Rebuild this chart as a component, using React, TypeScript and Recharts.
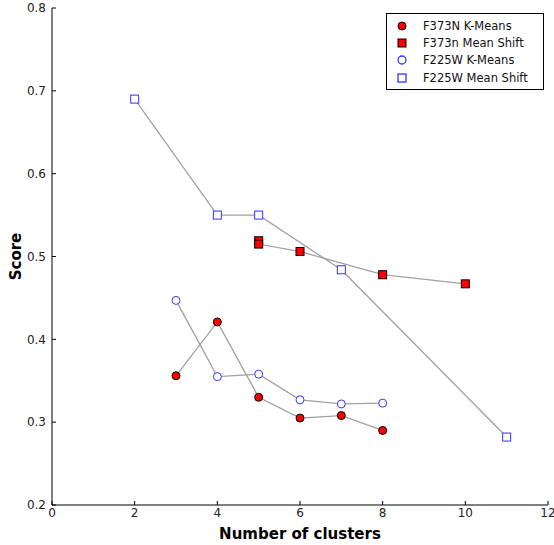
import { Line, LineChart, XAxis, YAxis } from "recharts";

const kmeansF373N = [
  { x: 3, y: 0.356 },
  { x: 4, y: 0.421 },
  { x: 5, y: 0.33 },
  { x: 6, y: 0.305 },
  { x: 7, y: 0.308 },
  { x: 8, y: 0.29 },
];
const meanShiftF373N = [
  { x: 5, y: 0.519 },
  { x: 5, y: 0.515 },
  { x: 6, y: 0.506 },
  { x: 8, y: 0.478 },
  { x: 10, y: 0.467 },
];
const kmeansF225W = [
  { x: 3, y: 0.447 },
  { x: 4, y: 0.355 },
  { x: 5, y: 0.358 },
  { x: 6, y: 0.327 },
  { x: 7, y: 0.322 },
  { x: 8, y: 0.323 },
];
const meanShiftF225W = [
  { x: 2, y: 0.69 },
  { x: 4, y: 0.55 },
  { x: 5, y: 0.55 },
  { x: 7, y: 0.484 },
  { x: 11, y: 0.282 },
];

const xTicks = [0, 2, 4, 6, 8, 10, 12];
const yTicks = [0.2, 0.3, 0.4, 0.5, 0.6, 0.7, 0.8];
const seriesNames = ["F373N K-Means", "F373n Mean Shift", "F225W K-Means", "F225W Mean Shift"];

const BLUE = "#3333ff";
const LINE = "#a0a0a0";
const FONT = "'DejaVu Sans', sans-serif";

const circle = (fill: string, stroke: string) => (p: any) =>
  <circle key={p.index} cx={p.cx} cy={p.cy} r={4} fill={fill} stroke={stroke} strokeWidth={1} />;
const square = (fill: string, stroke: string) => (p: any) =>
  <rect key={p.index} x={p.cx - 4} y={p.cy - 4} width={8} height={8} fill={fill} stroke={stroke} strokeWidth={1} />;

function LegendBox() {
  const markers = [
    <circle cx={8} cy={8} r={4} fill="red" stroke="#000" />,
    <rect x={4} y={4} width={8} height={8} fill="red" stroke="#000" />,
    <circle cx={8} cy={8} r={4} fill="#fff" stroke={BLUE} strokeWidth={1.3} />,
    <rect x={4} y={4} width={8} height={8} fill="#fff" stroke={BLUE} strokeWidth={1.3} />,
  ];
  return (
    <div
      style={{
        position: "absolute",
        left: 386,
        top: 13,
        border: "1px solid #000",
        background: "#fff",
        width: 156,
        padding: "3px 0 3px 0",
        fontFamily: FONT,
        fontSize: 11.5,
        color: "#111",
      }}
    >
      {seriesNames.map((name, i) => (
        <div key={name} style={{ display: "flex", alignItems: "center", height: 17.3 }}>
          <svg width={16} height={16} style={{ marginLeft: 7, marginRight: 13 }}>
            {markers[i]}
          </svg>
          <span>{name}</span>
        </div>
      ))}
    </div>
  );
}

export default function App() {
  const tickStyle = { fill: "#222", fontSize: 12, fontFamily: FONT };
  return (
    <div style={{ position: "absolute", left: 0, top: 0, width: 554, height: 545, background: "#fff" }}>
      <LineChart width={554} height={545} margin={{ top: 8, right: 6, bottom: 0, left: 0 }}>
        <XAxis
          xAxisId="b"
          dataKey="x"
          type="number"
          domain={[0, 12]}
          ticks={xTicks}
          height={40}
          stroke="#000"
          tickSize={-4}
          tickMargin={7}
          tick={tickStyle}
          allowDuplicatedCategory={false}
          label={{ value: "Number of clusters", position: "insideBottom", offset: 6, style: { fontFamily: FONT, fontSize: 15, fontWeight: "bold", fill: "#000" } }}
        />
        <XAxis
          xAxisId="t"
          orientation="top"
          dataKey="x"
          type="number"
          domain={[0, 12]}
          ticks={xTicks}
          height={0}
          stroke="#000"
          tickSize={-4}
          tickFormatter={() => ""}
        />
        <YAxis
          yAxisId="l"
          type="number"
          domain={[0.2, 0.8]}
          ticks={yTicks}
          width={52}
          stroke="#000"
          tickSize={-4}
          tickMargin={10}
          tick={tickStyle}
          tickFormatter={(v) => v.toFixed(1)}
          label={{ value: "Score", angle: -90, position: "insideLeft", offset: 16, style: { fontFamily: FONT, fontSize: 15, fontWeight: "bold", fill: "#000", textAnchor: "middle" } }}
        />
        <YAxis
          yAxisId="r"
          orientation="right"
          type="number"
          domain={[0.2, 0.8]}
          ticks={yTicks}
          width={0}
          stroke="#000"
          tickSize={-4}
          tickFormatter={() => ""}
        />
        <Line xAxisId="b" yAxisId="l" data={kmeansF373N} dataKey="y" name={seriesNames[0]} stroke={LINE} strokeWidth={1.3} dot={circle("red", "#000")} isAnimationActive={false} />
        <Line xAxisId="b" yAxisId="l" data={meanShiftF373N} dataKey="y" name={seriesNames[1]} stroke={LINE} strokeWidth={1.3} dot={square("red", "#000")} isAnimationActive={false} />
        <Line xAxisId="b" yAxisId="l" data={kmeansF225W} dataKey="y" name={seriesNames[2]} stroke={LINE} strokeWidth={1.3} dot={circle("#fff", BLUE)} isAnimationActive={false} />
        <Line xAxisId="b" yAxisId="l" data={meanShiftF225W} dataKey="y" name={seriesNames[3]} stroke={LINE} strokeWidth={1.3} dot={square("#fff", BLUE)} isAnimationActive={false} />
      </LineChart>
      <LegendBox />
    </div>
  );
}
